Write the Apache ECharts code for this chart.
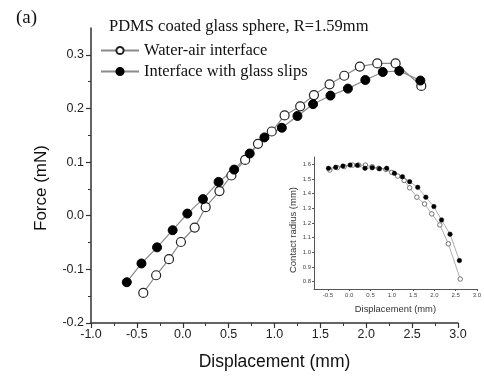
<!DOCTYPE html>
<html>
<head>
<meta charset="utf-8">
<script src="https://cdn.jsdelivr.net/npm/echarts@6/dist/echarts.min.js"></script>
<style>
  html, body { margin: 0; background: #fff; }
  #chart { width: 484px; height: 376px; }
</style>
</head>
<body>
<div id="chart"></div>
<script>
// main panel: force vs displacement
const waterAirX = [-0.43, -0.29, -0.15, -0.02, 0.13, 0.25, 0.40, 0.53, 0.68, 0.82, 0.97, 1.11, 1.28, 1.43, 1.60, 1.76, 1.93, 2.12, 2.32, 2.60];
const waterAirForce = [-0.144, -0.111, -0.081, -0.049, -0.022, 0.016, 0.046, 0.075, 0.104, 0.134, 0.157, 0.187, 0.204, 0.225, 0.245, 0.261, 0.278, 0.284, 0.284, 0.242];
const glassSlipX = [-0.61, -0.45, -0.28, -0.11, 0.05, 0.22, 0.39, 0.56, 0.73, 0.89, 1.08, 1.25, 1.42, 1.61, 1.80, 1.99, 2.18, 2.36, 2.59];
const glassSlipForce = [-0.124, -0.089, -0.059, -0.027, 0.004, 0.031, 0.063, 0.086, 0.116, 0.146, 0.164, 0.186, 0.208, 0.224, 0.237, 0.253, 0.268, 0.270, 0.252];

// inset: contact radius vs displacement
const insetOpenX = [-0.46, -0.28, -0.12, 0.08, 0.22, 0.38, 0.54, 0.69, 0.86, 1.00, 1.14, 1.29, 1.42, 1.59, 1.77, 1.94, 2.13, 2.33, 2.61];
const insetOpenR = [1.561, 1.577, 1.584, 1.595, 1.595, 1.595, 1.584, 1.573, 1.565, 1.545, 1.52, 1.49, 1.44, 1.376, 1.33, 1.262, 1.187, 1.058, 0.818];
const insetFilledX = [-0.49, -0.32, -0.15, 0.02, 0.19, 0.37, 0.54, 0.71, 0.88, 1.06, 1.25, 1.42, 1.61, 1.80, 1.99, 2.17, 2.37, 2.59];
const insetFilledR = [1.573, 1.58, 1.588, 1.595, 1.593, 1.573, 1.577, 1.57, 1.573, 1.539, 1.516, 1.482, 1.443, 1.376, 1.312, 1.221, 1.124, 0.944];

const forceTicks = [-0.2, -0.1, 0.0, 0.1, 0.2, 0.3];
const forceMinorTicks = [-0.15, -0.05, 0.05, 0.15, 0.25];
const dispMinorTicks = [-0.75, -0.25, 0.25, 0.75, 1.25, 1.75, 2.25, 2.75];
const insetXTicks = [-0.5, 0.0, 0.5, 1.0, 1.5, 2.0, 2.5, 3.0];
const insetYTicks = [0.8, 0.9, 1.0, 1.1, 1.2, 1.3, 1.4, 1.5, 1.6];

const zip = (xs, ys) => xs.map((x, i) => [x, ys[i]]);

const sans = "Liberation Sans, Arial, sans-serif";
const serif = "Liberation Serif, Times New Roman, serif";
const axisColor = "#333";

const chart = echarts.init(document.getElementById("chart"));
chart.setOption({
  animation: false,
  title: [
    { text: "(a)", left: 11, top: 4, textStyle: { fontFamily: serif, fontSize: 19, fontWeight: "normal", color: "#111" } },
    { text: "PDMS coated glass sphere, R=1.59mm", left: 104, top: 13, textStyle: { fontFamily: serif, fontSize: 16.5, fontWeight: "normal", color: "#111" } }
  ],
  legend: {
    left: 100, top: 42, orient: "vertical", padding: 0, itemWidth: 38, itemHeight: 9, itemGap: 4,
    textStyle: { fontFamily: serif, fontSize: 16.5, color: "#111" },
    data: ["Water-air interface", "Interface with glass slips"]
  },
  graphic: [
    {
      type: "text", x: 41, y: 188, rotation: Math.PI / 2,
      style: { text: "Force (mN)", font: "17px " + sans, fill: "#111", align: "center", verticalAlign: "middle" }
    }
  ],
  grid: [
    { left: 91, right: 26, top: 28, bottom: 52 },
    { left: 314, right: 4, top: 157, bottom: 87 }
  ],
  xAxis: [
    {
      gridIndex: 0, type: "value", min: -1, max: 3, interval: 0.5,
      name: "Displacement (mm)", nameLocation: "middle", nameGap: 30,
      nameTextStyle: { fontFamily: sans, fontSize: 17.5, color: "#111" },
      axisLine: { onZero: false, lineStyle: { color: axisColor, width: 1.5 } },
      axisTick: { length: 5, lineStyle: { color: axisColor, width: 1.2 } },
      axisLabel: { fontFamily: sans, fontSize: 12.5, color: "#222", margin: 5, formatter: v => v.toFixed(1) },
      splitLine: { show: false }
    },
    {
      gridIndex: 0, type: "value", min: -1, max: 3, position: "bottom",
      axisLine: { show: false, onZero: false }, axisLabel: { show: false }, splitLine: { show: false },
      axisTick: { length: 3, customValues: dispMinorTicks, lineStyle: { color: axisColor, width: 1 } }
    },
    {
      gridIndex: 1, type: "value", min: -0.83, max: 3.0,
      name: "Displacement (mm)", nameLocation: "middle", nameGap: 16,
      nameTextStyle: { fontFamily: sans, fontSize: 9.4, color: "#333" },
      axisLine: { onZero: false, lineStyle: { color: "#555", width: 1 } },
      axisTick: { length: 2, customValues: insetXTicks, lineStyle: { color: "#555" } },
      axisLabel: { fontFamily: sans, fontSize: 6, color: "#444", margin: 3, customValues: insetXTicks, formatter: v => v.toFixed(1) },
      splitLine: { show: false }
    }
  ],
  yAxis: [
    {
      gridIndex: 0, type: "value", min: -0.2, max: 0.35,
      axisLine: { onZero: false, lineStyle: { color: axisColor, width: 1.5 } },
      axisTick: { length: 5, customValues: forceTicks, lineStyle: { color: axisColor, width: 1.2 } },
      axisLabel: { fontFamily: sans, fontSize: 12.5, color: "#222", margin: 7, customValues: forceTicks, formatter: v => v.toFixed(1) },
      splitLine: { show: false }
    },
    {
      gridIndex: 0, type: "value", min: -0.2, max: 0.35, position: "left",
      axisLine: { show: false, onZero: false }, axisLabel: { show: false }, splitLine: { show: false },
      axisTick: { length: 3, customValues: forceMinorTicks, lineStyle: { color: axisColor, width: 1 } }
    },
    {
      gridIndex: 1, type: "value", min: 0.75, max: 1.65,
      name: "Contact radius (mm)", nameLocation: "middle", nameGap: 15,
      nameTextStyle: { fontFamily: sans, fontSize: 9.5, color: "#333", padding: [0, 14, 0, 0] },
      axisLine: { onZero: false, lineStyle: { color: "#555", width: 1 } },
      axisTick: { length: 2, customValues: insetYTicks, lineStyle: { color: "#555" } },
      axisLabel: { fontFamily: sans, fontSize: 6, color: "#444", margin: 3, customValues: insetYTicks, formatter: v => v.toFixed(1) },
      splitLine: { show: false }
    }
  ],
  series: [
    {
      name: "Water-air interface", type: "line", xAxisIndex: 0, yAxisIndex: 0,
      data: zip(waterAirX, waterAirForce),
      symbol: "circle", symbolSize: 9,
      lineStyle: { color: "#8a8a8a", width: 1.2 },
      itemStyle: { color: "#fff", borderColor: "#222", borderWidth: 1.2 }
    },
    {
      name: "Interface with glass slips", type: "line", xAxisIndex: 0, yAxisIndex: 0,
      data: zip(glassSlipX, glassSlipForce),
      symbol: "circle", symbolSize: 9,
      lineStyle: { color: "#8a8a8a", width: 1.2 },
      itemStyle: { color: "#000", borderColor: "#000", borderWidth: 1 }
    },
    {
      name: "inset open", type: "line", xAxisIndex: 2, yAxisIndex: 2,
      data: zip(insetOpenX, insetOpenR),
      symbol: "circle", symbolSize: 4.5,
      lineStyle: { color: "#999", width: 0.8 },
      itemStyle: { color: "#fff", borderColor: "#555", borderWidth: 0.8 }
    },
    {
      name: "inset filled", type: "line", xAxisIndex: 2, yAxisIndex: 2,
      data: zip(insetFilledX, insetFilledR),
      symbol: "circle", symbolSize: 4.5,
      lineStyle: { color: "#999", width: 0.8 },
      itemStyle: { color: "#000", borderColor: "#000", borderWidth: 0.5 }
    }
  ]
});
</script>
</body>
</html>
